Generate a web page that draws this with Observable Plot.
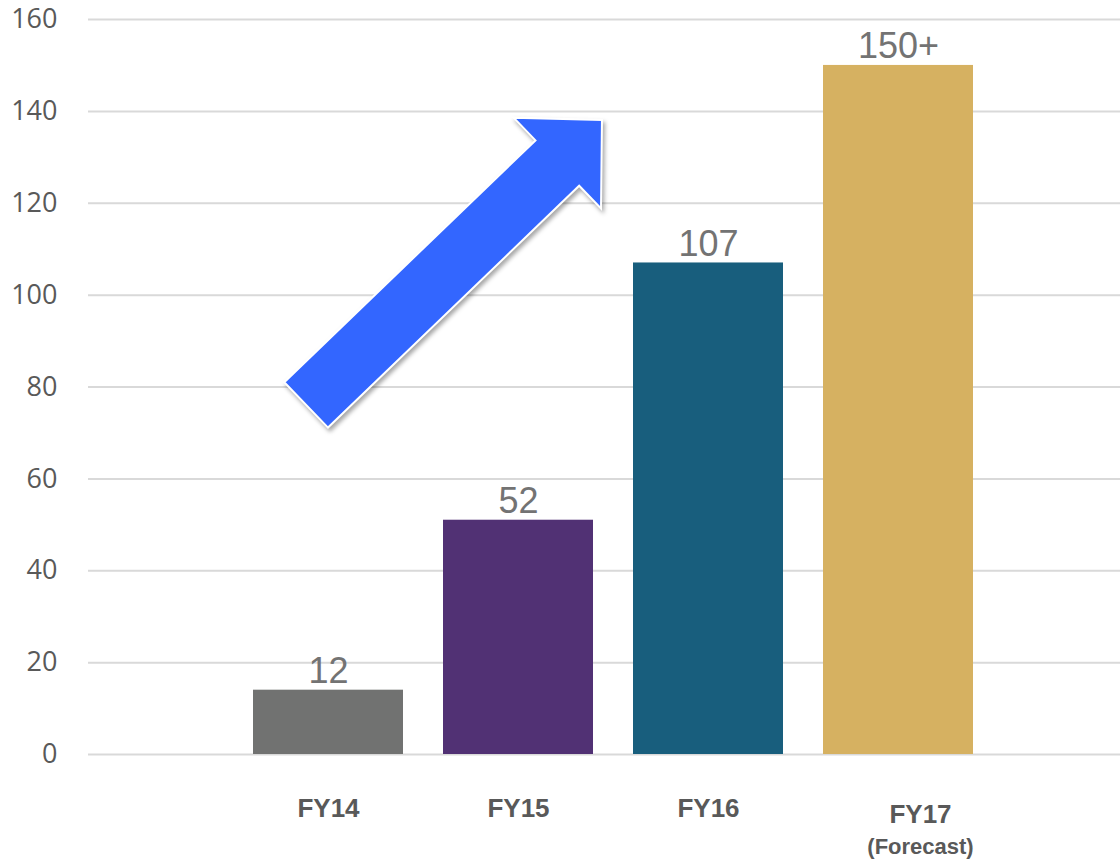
<!DOCTYPE html>
<html>
<head>
<meta charset="utf-8">
<script src="https://cdn.jsdelivr.net/npm/d3@7"></script>
<script src="https://cdn.jsdelivr.net/npm/@observablehq/plot@0.6"></script>
<style>
  html, body { margin: 0; padding: 0; background: #ffffff; }
  #chart svg { display: block; }
</style>
</head>
<body>
<div id="chart"></div>
<script>
// ---- data ----
const categories = ["FY14", "FY15", "FY16", "FY17"];
const barValues = [14, 51, 107, 150];
const barLabels = ["12", "52", "107", "150+"];
const subLabels = ["", "", "", "(Forecast)"];
const barColors = ["#717271", "#513174", "#185e7d", "#d6b161"];
const yTicks = [0, 20, 40, 60, 80, 100, 120, 140, 160];

// arrow annotation, in data terms (category + fraction of a step, value)
const arrowTail = {cat: "FY14", shift: -0.115, value: 76};
const arrowTip = {cat: "FY15", shift: 0.442, value: 138};

const rows = categories.map((c, i) => ({
  cat: c, value: barValues[i], label: barLabels[i], sub: subLabels[i], color: barColors[i]
}));

function arrowMark(index, scales, values, dimensions, context) {
  const x = scales.x, y = scales.y;
  const bw = x.bandwidth(), step = x.step();
  const px = (p) => [x(p.cat) + bw / 2 + p.shift * step, y(p.value)];
  const [tx, ty] = px(arrowTail);
  const [hx, hy] = px(arrowTip);
  const dx = hx - tx, dy = hy - ty, len = Math.hypot(dx, dy);
  const ux = dx / len, uy = dy / len;
  const nx = -uy, ny = ux;
  const shaft = 31.5, head = 63, headLen = 62;
  const bx = hx - ux * headLen, by = hy - uy * headLen;
  const pts = [
    [tx - nx * shaft, ty - ny * shaft],
    [bx - nx * shaft, by - ny * shaft],
    [bx - nx * head, by - ny * head],
    [hx, hy],
    [bx + nx * head, by + ny * head],
    [bx + nx * shaft, by + ny * shaft],
    [tx + nx * shaft, ty + ny * shaft]
  ];
  const svg = d3.create("svg:g");
  svg.append("path")
    .attr("d", "M" + pts.map(p => p[0].toFixed(2) + "," + p[1].toFixed(2)).join("L") + "Z")
    .attr("fill", "#3366ff")
    .attr("stroke", "#ffffff")
    .attr("stroke-width", 2)
    .attr("stroke-linejoin", "miter")
    .style("filter", "drop-shadow(2px 3px 2px rgba(0,0,0,0.35))");
  return svg.node();
}

const labelStyle = {fontWeight: "bold", fontFamily: "Liberation Sans", fill: "#595959"};

const chart = Plot.plot({
  width: 1120,
  height: 859,
  marginLeft: 88,
  marginRight: 0,
  marginTop: 19,
  marginBottom: 105,
  style: {background: "#ffffff", overflow: "visible"},
  x: {domain: categories, range: [252, 975], paddingInner: 0.209, paddingOuter: 0, axis: null},
  y: {domain: [0, 160], axis: null},
  marks: [
    Plot.ruleY(yTicks, {stroke: "#d9d9d9", strokeWidth: 2}),
    Plot.axisY({
      ticks: yTicks, tickSize: 0, tickPadding: 31,
      fontSize: 27, fontFamily: "Open Sans", fill: "#595959", label: null
    }),
    Plot.barY(rows, {x: "cat", y: "value", fill: "color"}),
    Plot.text(rows, {
      x: "cat", y: "value", text: "label", lineAnchor: "bottom", dy: -7,
      fontSize: 36, fontFamily: "Liberation Sans", fill: "#737373"
    }),
    // category labels without a sub-label
    Plot.text(rows, {
      filter: (d) => !d.sub,
      x: "cat", text: "cat", frameAnchor: "bottom", lineAnchor: "bottom", dy: 62,
      fontSize: 26, ...labelStyle
    }),
    // category label with a sub-label (sits a little to the right in the reference)
    Plot.text(rows, {
      filter: (d) => d.sub,
      x: "cat", text: "cat", frameAnchor: "bottom", lineAnchor: "bottom", dy: 68, dx: 22,
      fontSize: 26, ...labelStyle
    }),
    Plot.text(rows, {
      filter: (d) => d.sub,
      x: "cat", text: "sub", frameAnchor: "bottom", lineAnchor: "bottom", dy: 99, dx: 22,
      fontSize: 22, ...labelStyle
    }),
    arrowMark
  ]
});

document.getElementById("chart").appendChild(chart);
</script>
</body>
</html>
